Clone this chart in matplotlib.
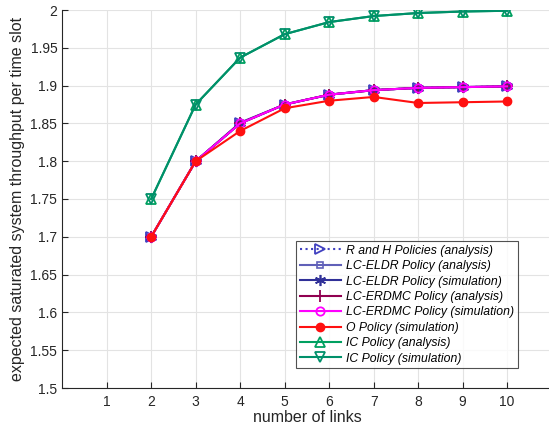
import matplotlib
matplotlib.use("Agg")
import matplotlib.pyplot as plt
import numpy as np

links = [2, 3, 4, 5, 6, 7, 8, 9, 10]
rh_analysis = [1.700, 1.800, 1.850, 1.875, 1.888, 1.894, 1.897, 1.898, 1.899]
eldr_analysis = [1.700, 1.800, 1.850, 1.875, 1.888, 1.894, 1.897, 1.898, 1.899]
eldr_sim = [1.700, 1.800, 1.851, 1.875, 1.888, 1.894, 1.897, 1.898, 1.899]
erdmc_analysis = [1.700, 1.800, 1.850, 1.875, 1.888, 1.894, 1.897, 1.898, 1.899]
erdmc_sim = [1.700, 1.800, 1.850, 1.875, 1.888, 1.894, 1.897, 1.898, 1.899]
o_sim = [1.700, 1.800, 1.840, 1.870, 1.880, 1.885, 1.877, 1.878, 1.879]
ic_analysis = [1.750, 1.875, 1.937, 1.968, 1.984, 1.992, 1.996, 1.998, 1.999]
ic_sim = [1.750, 1.875, 1.937, 1.968, 1.984, 1.992, 1.996, 1.998, 1.999]

labels = ["R and H Policies (analysis)", "LC-ELDR Policy (analysis)",
          "LC-ELDR Policy (simulation)", "LC-ERDMC Policy (analysis)",
          "LC-ERDMC Policy (simulation)", "O Policy (simulation)",
          "IC Policy (analysis)", "IC Policy (simulation)"]
xticks = [1, 2, 3, 4, 5, 6, 7, 8, 9, 10]
yticks = [1.5, 1.55, 1.6, 1.65, 1.7, 1.75, 1.8, 1.85, 1.9, 1.95, 2.0]
yticklabels = ["1.5", "1.55", "1.6", "1.65", "1.7", "1.75", "1.8", "1.85", "1.9", "1.95", "2"]

plt.rcParams['font.family'] = ['Liberation Sans', 'DejaVu Sans']

W, H = 549, 425
fig = plt.figure(figsize=(W / 100, H / 100), dpi=100)
x0, x1 = 62.2, 551.6
y0, y1 = 388, 10
ax = fig.add_axes([x0 / W, 1 - y0 / H, (x1 - x0) / W, (y0 - y1) / H])

asterisk = (6, 2, 0)
ax.plot(links, rh_analysis, ':', color='#4040c0', lw=1.5, marker='>', ms=7, mfc='none', mew=1.3, label=labels[0])
ax.plot(links, eldr_analysis, '-', color='#6060b8', lw=1.5, marker='s', ms=5, mfc='none', mew=1.2, label=labels[1])
ax.plot(links, eldr_sim, '-', color='#303098', lw=1.5, marker=asterisk, ms=8, mew=1.2, label=labels[2])
ax.plot(links, erdmc_analysis, '-', color='#900050', lw=1.5, marker='+', ms=8, mew=1.3, label=labels[3])
ax.plot(links, erdmc_sim, '-', color='#ff00ff', lw=1.5, marker='o', ms=6, mfc='none', mew=1.3, label=labels[4])
ax.plot(links, o_sim, '-', color='#ff1010', lw=1.5, marker='o', ms=6, mfc='#ff1010', label=labels[5])
ax.plot(links, ic_analysis, '-', color='#00a060', lw=1.5, marker='^', ms=7.5, mfc='none', mew=1.3, label=labels[6])
ax.plot(links, ic_sim, '-', color='#00906a', lw=1.5, marker='v', ms=7.5, mfc='none', mew=1.3, label=labels[7])

ax.set_xlim(0, 11)
ax.set_ylim(1.5, 2.0)
ax.set_xticks(xticks)
ax.set_yticks(yticks)
ax.set_yticklabels(yticklabels)
ax.grid(True, color='#e3e3e3', lw=0.8)
ax.set_axisbelow(True)
for s in ['top', 'right']:
    ax.spines[s].set_visible(False)
for s in ['left', 'bottom']:
    ax.spines[s].set_color('#262626')
    ax.spines[s].set_linewidth(0.8)
ax.tick_params(direction='in', length=4, colors='#262626', labelsize=10, width=0.8)
ax.tick_params(axis='x', pad=5)
ax.set_xlabel("number of links", fontsize=11.5, color='#262626', labelpad=1)
ax.set_ylabel("expected saturated system throughput per time slot", fontsize=11.5, color='#262626', labelpad=4)

leg = ax.legend(loc='upper left', bbox_to_anchor=((296 - x0) / (x1 - x0), (y0 - 241) / (y0 - y1)),
                prop={'style': 'italic', 'size': 8.8}, frameon=True, fancybox=False,
                edgecolor='#262626', handlelength=3.4, handletextpad=0.4, labelspacing=0.28,
                borderpad=0.3, borderaxespad=0)
leg.get_frame().set_linewidth(0.8)

fig.savefig("out.png", dpi=100)
